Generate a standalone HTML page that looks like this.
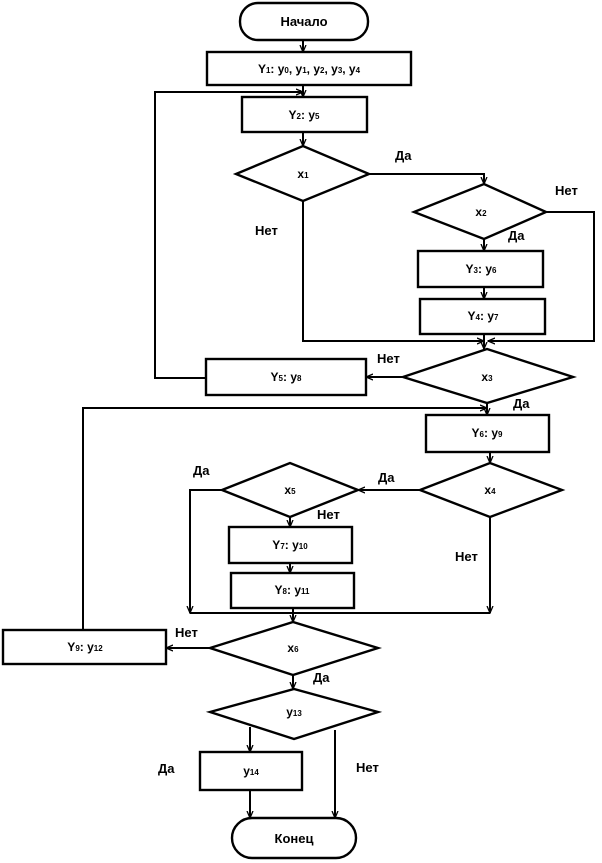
<!DOCTYPE html>
<html><head><meta charset="utf-8"><style>
body{margin:0;background:#fff}
svg{display:block}
text{font-family:"Liberation Sans",sans-serif;font-weight:bold;font-size:13px;fill:#000}
.s{font-size:12px}
.b{font-size:8px}
</style></head><body>
<svg width="602" height="863" viewBox="0 0 602 863" xmlns="http://www.w3.org/2000/svg">
<defs><marker id="a" markerWidth="8" markerHeight="8" refX="7" refY="4" orient="auto" markerUnits="userSpaceOnUse"><path d="M0,1 L7,4 L0,7" fill="none" stroke="#000" stroke-width="1.3"/></marker></defs>
<g fill="none" stroke="#000" stroke-width="2.4">
<rect x="240" y="3" width="128" height="37" rx="18"/>
<rect x="207" y="52" width="204" height="33"/>
<rect x="242" y="97" width="125" height="35"/>
<polygon points="236,174 303,146 369,174 303,201"/>
<polygon points="414,212 484,184 546,212 484,239"/>
<rect x="418" y="251" width="125" height="36"/>
<rect x="420" y="299" width="125" height="35"/>
<polygon points="403,377 487,349 573,377 487,403"/>
<rect x="206" y="359" width="160" height="36"/>
<rect x="426" y="415" width="123" height="37"/>
<polygon points="420,490 490,463 562,490 490,517"/>
<polygon points="222,490 290,463 358,490 290,517"/>
<rect x="229" y="527" width="123" height="36"/>
<rect x="231" y="573" width="123" height="35"/>
<polygon points="210,648 293,622 378,648 293,675"/>
<rect x="3" y="630" width="163" height="34"/>
<polygon points="210,712 294,689 378,712 294,739"/>
<rect x="200" y="752" width="102" height="38"/>
<rect x="232" y="818" width="124" height="40" rx="20"/>
</g>
<g fill="none" stroke="#000" stroke-width="2">
<path d="M303,40 V52" marker-end="url(#a)"/>
<path d="M303,85 V97" marker-end="url(#a)"/>
<path d="M303,132 V146" marker-end="url(#a)"/>
<path d="M369,174 H484 V184" marker-end="url(#a)"/>
<path d="M546,212 H594 V341 H488" marker-end="url(#a)"/>
<path d="M484,239 V251" marker-end="url(#a)"/>
<path d="M484,287 V299" marker-end="url(#a)"/>
<path d="M484,334 V349" marker-end="url(#a)"/>
<path d="M303,201 V341 H484" marker-end="url(#a)"/>
<path d="M403,377 H366" marker-end="url(#a)"/>
<path d="M206,378 H155 V92 H303" marker-end="url(#a)"/>
<path d="M487,403 V415" marker-end="url(#a)"/>
<path d="M490,452 V463" marker-end="url(#a)"/>
<path d="M420,490 H358" marker-end="url(#a)"/>
<path d="M222,490 H190 V613" marker-end="url(#a)"/>
<path d="M490,517 V613" marker-end="url(#a)"/>
<path d="M190,613 H490"/>
<path d="M290,517 V527" marker-end="url(#a)"/>
<path d="M290,563 V573" marker-end="url(#a)"/>
<path d="M293,608 V622" marker-end="url(#a)"/>
<path d="M210,648 H166" marker-end="url(#a)"/>
<path d="M83,630 V408 H487" marker-end="url(#a)"/>
<path d="M293,675 V689" marker-end="url(#a)"/>
<path d="M250,727 V752" marker-end="url(#a)"/>
<path d="M250,790 V818" marker-end="url(#a)"/>
<path d="M335,730 V818" marker-end="url(#a)"/>
</g>
<g text-anchor="middle" class="s">
<text x="304" y="26" style="font-size:13px">Начало</text>
<text x="309" y="73" class="s">Y<tspan class="b">1</tspan>: y<tspan class="b">0</tspan>, y<tspan class="b">1</tspan>, y<tspan class="b">2</tspan>, y<tspan class="b">3</tspan>, y<tspan class="b">4</tspan></text>
<text x="304" y="119" class="s">Y<tspan class="b">2</tspan>: y<tspan class="b">5</tspan></text>
<text x="303" y="178" class="s">x<tspan class="b">1</tspan></text>
<text x="481" y="216" class="s">x<tspan class="b">2</tspan></text>
<text x="481" y="273" class="s">Y<tspan class="b">3</tspan>: y<tspan class="b">6</tspan></text>
<text x="483" y="320" class="s">Y<tspan class="b">4</tspan>: y<tspan class="b">7</tspan></text>
<text x="487" y="381" class="s">x<tspan class="b">3</tspan></text>
<text x="286" y="381" class="s">Y<tspan class="b">5</tspan>: y<tspan class="b">8</tspan></text>
<text x="487" y="437" class="s">Y<tspan class="b">6</tspan>: y<tspan class="b">9</tspan></text>
<text x="490" y="494" class="s">x<tspan class="b">4</tspan></text>
<text x="290" y="494" class="s">x<tspan class="b">5</tspan></text>
<text x="290" y="549" class="s">Y<tspan class="b">7</tspan>: y<tspan class="b">10</tspan></text>
<text x="292" y="594" class="s">Y<tspan class="b">8</tspan>: y<tspan class="b">11</tspan></text>
<text x="293" y="652" class="s">x<tspan class="b">6</tspan></text>
<text x="85" y="651" class="s">Y<tspan class="b">9</tspan>: y<tspan class="b">12</tspan></text>
<text x="294" y="716" class="s">y<tspan class="b">13</tspan></text>
<text x="251" y="775" class="s">y<tspan class="b">14</tspan></text>
<text x="294" y="843" style="font-size:13px">Конец</text>
</g>
<g>
<text x="395" y="160">Да</text>
<text x="555" y="195">Нет</text>
<text x="255" y="235">Нет</text>
<text x="508" y="240">Да</text>
<text x="377" y="363">Нет</text>
<text x="513" y="408">Да</text>
<text x="193" y="475">Да</text>
<text x="378" y="482">Да</text>
<text x="317" y="519">Нет</text>
<text x="455" y="561">Нет</text>
<text x="175" y="637">Нет</text>
<text x="313" y="682">Да</text>
<text x="158" y="773">Да</text>
<text x="356" y="772">Нет</text>
</g>
</svg>
</body></html>
